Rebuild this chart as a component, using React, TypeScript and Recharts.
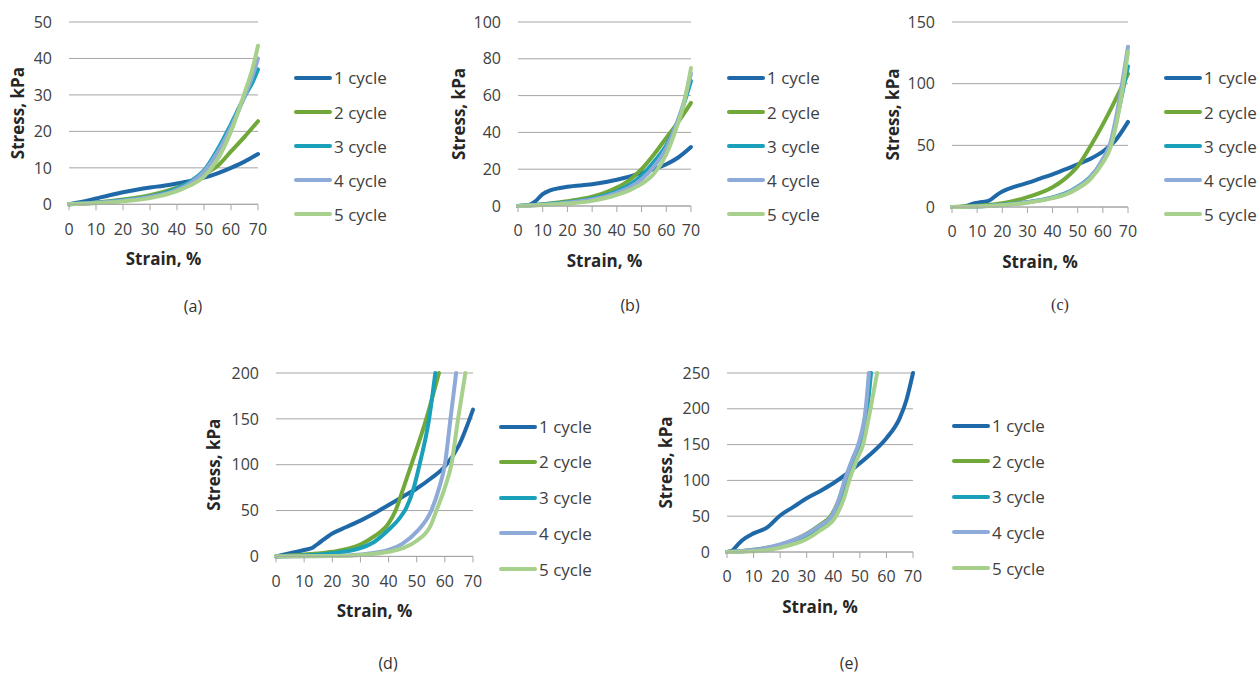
import { CartesianGrid, Line, LineChart, XAxis, YAxis } from "recharts";

type Pt = [number, number];

const seriesNames = ["1 cycle", "2 cycle", "3 cycle", "4 cycle", "5 cycle"];
const seriesColors = ["#1f69a8", "#70a83a", "#1aa0b9", "#8eaad8", "#a8d08d"];
const strainTicks = [0, 10, 20, 30, 40, 50, 60, 70];

// (a)
const a1: Pt[] = [[0, 0], [5, 0.7], [10, 1.6], [15, 2.5], [20, 3.3], [25, 4], [30, 4.6], [35, 5.1], [40, 5.7], [45, 6.4], [50, 7.3], [55, 8.5], [60, 10], [65, 11.7], [70, 13.8]];
const a2: Pt[] = [[0, 0], [10, 0.5], [20, 1.3], [30, 2.5], [40, 4.6], [45, 6], [50, 8.2], [55, 10.5], [60, 14.5], [65, 18.5], [70, 22.8]];
const a3: Pt[] = [[0, 0], [10, 0.4], [20, 1.1], [30, 2.1], [40, 4.3], [45, 6.3], [50, 9.3], [55, 15], [60, 22], [65, 29.5], [68, 33.5], [70, 37]];
const a4: Pt[] = [[0, 0], [10, 0.4], [20, 1], [30, 2], [40, 4], [45, 5.9], [50, 9], [55, 14.2], [60, 21.2], [65, 29.5], [68, 35.2], [70, 40]];
const a5: Pt[] = [[0, 0], [10, 0.3], [20, 0.8], [30, 1.7], [40, 3.6], [45, 5.2], [50, 7.6], [55, 12.3], [60, 20], [65, 30.5], [68, 37.3], [70, 43.5]];
const stressTicksA = [0, 10, 20, 30, 40, 50];

// (b)
const b1: Pt[] = [[0, 0], [4, 0.3], [7, 2.5], [10, 6.5], [13, 8.5], [17, 9.8], [20, 10.5], [30, 11.8], [40, 14.3], [45, 16], [50, 18], [55, 20], [60, 22.7], [65, 26.5], [70, 32]];
const b2: Pt[] = [[0, 0], [10, 1], [20, 2.6], [30, 5], [40, 10], [45, 14], [50, 20], [55, 28], [60, 37], [65, 46], [70, 56]];
const b3: Pt[] = [[0, 0], [10, 0.8], [20, 2], [30, 4], [40, 8], [45, 11.5], [50, 16.5], [55, 24], [60, 33], [64, 44], [67, 55], [70, 68]];
const b4: Pt[] = [[0, 0], [10, 0.7], [20, 1.8], [30, 3.5], [40, 7.2], [45, 10], [50, 14.5], [55, 21.5], [60, 31.5], [64, 44], [67, 56], [70, 72]];
const b5: Pt[] = [[0, 0], [10, 0.5], [20, 1.3], [30, 2.8], [40, 6], [45, 8.5], [50, 12], [55, 17.5], [60, 28], [64, 42], [67, 55], [70, 75]];
const stressTicksB = [0, 20, 40, 60, 80, 100];

// (c)
const c1: Pt[] = [[0, 0], [5, 0.5], [8, 2.5], [12, 4], [15, 5.5], [18, 10], [20, 12.5], [25, 16.5], [30, 19.5], [35, 23], [40, 26.5], [45, 30.5], [50, 34.6], [55, 39], [60, 45], [65, 54], [70, 69]];
const c2: Pt[] = [[0, 0], [10, 1], [20, 3], [30, 8], [40, 16], [45, 23], [50, 33], [55, 49], [60, 67], [65, 87], [70, 108]];
const c3: Pt[] = [[0, 0], [10, 0.5], [20, 1.8], [30, 4], [40, 7.8], [45, 11], [50, 16.5], [55, 24.5], [60, 38], [63, 50], [65, 66], [67, 85], [70, 114]];
const c4: Pt[] = [[0, 0], [10, 0.5], [20, 1.7], [30, 3.8], [40, 7.6], [45, 10.5], [50, 16], [55, 24], [60, 39], [63, 52], [65, 70], [67, 92], [70, 130]];
const c5: Pt[] = [[0, 0], [10, 0.4], [20, 1.5], [30, 3.5], [40, 7.2], [45, 10], [50, 15], [55, 22.5], [60, 36], [63, 48], [65, 64], [67, 85], [70, 126]];
const stressTicksC = [0, 50, 100, 150];

// (d)
const d1: Pt[] = [[0, 0], [5, 3.5], [10, 7], [13, 9.5], [15, 14], [20, 25], [25, 32], [30, 39], [35, 47], [40, 56], [45, 65], [50, 74], [55, 85], [60, 98], [65, 121], [70, 160]];
const d2: Pt[] = [[0, 0], [10, 2], [20, 5], [30, 13], [35, 22], [40, 36], [42.5, 50], [45, 72], [48.1, 100], [53.4, 150], [57.9, 200]];
const d3: Pt[] = [[0, 0], [10, 1], [20, 3.5], [30, 9], [35, 16], [40, 29], [44, 42], [46.3, 53], [48.7, 72], [51, 100], [54.4, 150], [56.6, 200]];
const d4: Pt[] = [[0, 0], [20, 0.5], [30, 2], [40, 7], [45, 14], [50, 27], [55.2, 50], [58, 75], [60, 100], [62, 150], [64, 200]];
const d5: Pt[] = [[0, 0], [20, 0.3], [30, 1.5], [40, 5], [45, 9], [50, 17], [55, 34], [57, 50], [60, 75], [62.3, 100], [64.7, 150], [67.3, 200]];
const stressTicksD = [0, 50, 100, 150, 200];

// (e)
const e1: Pt[] = [[0, 0], [2, 2], [3.5, 8], [6, 17], [10, 26], [15, 34], [20, 51], [25, 63], [30, 75], [35, 85], [40, 96], [45, 109], [50, 124], [55, 140], [60, 159], [65, 187], [67.5, 212], [70, 250]];
const e2: Pt[] = [[0, 0], [10, 3], [20, 10], [30, 25.5], [35, 38], [39, 50], [42, 72], [44.5, 100], [47.2, 127], [50, 152], [52.5, 200], [53.8, 250]];
const e3: Pt[] = [[0, 0], [10, 2.5], [20, 9], [30, 22], [35, 34], [40, 52], [43, 72], [45.5, 100], [48, 125], [50.5, 152], [52.8, 200], [54.2, 250]];
const e4: Pt[] = [[0, 0], [10, 3], [20, 10.5], [30, 25], [35, 37], [39.3, 50], [42, 72], [44.3, 100], [47, 128], [49.8, 155], [52.2, 200], [53.4, 250]];
const e5: Pt[] = [[0, 0], [10, 1], [20, 6], [30, 18], [35, 30], [41, 50], [44, 75], [46, 100], [49, 130], [51.2, 150], [54, 200], [56.5, 250]];
const stressTicksE = [0, 50, 100, 150, 200, 250];

type PanelProps = {
  series: Pt[][];
  yTicks: number[];
  left: number;
  right: number;
  top: number;
  bottom: number;
  titleX: number;
  legendX: number;
  legendRows: number[];
  caption: string;
  captionX: number;
  captionY: number;
  captionFont?: string;
};

const panels: PanelProps[] = [
  { series: [a1, a2, a3, a4, a5], yTicks: stressTicksA, left: 69, right: 258, top: 21.7, bottom: 204, titleX: 18, legendX: 294, legendRows: [77.7, 112, 146, 180, 214], caption: "(a)", captionX: 193, captionY: 306 },
  { series: [b1, b2, b3, b4, b5], yTicks: stressTicksB, left: 518, right: 691, top: 21.7, bottom: 205.7, titleX: 458, legendX: 727, legendRows: [77.7, 112, 146, 180, 214], caption: "(b)", captionX: 630, captionY: 305 },
  { series: [c1, c2, c3, c4, c5], yTicks: stressTicksC, left: 952, right: 1128, top: 21.7, bottom: 206.7, titleX: 892, legendX: 1164, legendRows: [77.7, 112, 146, 180, 214], caption: "(c)", captionX: 1060, captionY: 305, captionFont: "'Liberation Serif', serif" },
  { series: [d1, d2, d3, d4, d5], yTicks: stressTicksD, left: 276, right: 473, top: 373.3, bottom: 556.7, titleX: 214, legendX: 499, legendRows: [426.7, 461.7, 497.5, 533, 569], caption: "(d)", captionX: 388, captionY: 663 },
  { series: [e1, e2, e3, e4, e5], yTicks: stressTicksE, left: 727, right: 913, top: 373.3, bottom: 552.3, titleX: 665, legendX: 952, legendRows: [425.7, 461, 496.7, 532.3, 568.3], caption: "(e)", captionX: 849, captionY: 663 },
];

const font = "'Open Sans', 'Noto Sans', sans-serif";
const textColor = "#404040";

const Panel = (p: PanelProps) => {
  const yw = 72;
  const mt = 10;
  const mr = 12;
  const xh = 72;
  const plotW = p.right - p.left;
  const plotH = p.bottom - p.top;
  const W = yw + plotW + mr;
  const H = mt + plotH + xh;
  const yMax = p.yTicks[p.yTicks.length - 1];
  const titleY = mt + plotH / 2;
  const titleX = p.titleX - (p.left - yw);

  return (
    <>
      <div style={{ position: "absolute", left: p.left - yw, top: p.top - mt }}>
        <LineChart width={W} height={H} margin={{ top: mt, right: mr, left: 0, bottom: 0 }}>
          <CartesianGrid vertical={false} stroke="#a6a6a6" strokeWidth={1} />
          <XAxis
            type="number"
            dataKey="x"
            domain={[0, 70]}
            ticks={strainTicks}
            interval={0}
            height={xh}
            stroke="#a6a6a6"
            tickSize={6}
            tickMargin={13}
            tick={{ fill: textColor, fontSize: 16 }}
            label={{
              content: () => (
                <text x={yw + plotW / 2} y={mt + plotH + 54} textAnchor="middle" dominantBaseline="central" fontSize={17} fontWeight={700} fill="#262626">
                  Strain, %
                </text>
              ),
            }}
          />
          <YAxis
            type="number"
            domain={[0, yMax]}
            ticks={p.yTicks}
            interval={0}
            width={yw}
            axisLine={false}
            tickLine={false}
            tickSize={0}
            tickMargin={17}
            tick={{ fill: textColor, fontSize: 16 }}
            label={{
              content: () => (
                <text x={titleX} y={titleY} transform={`rotate(-90, ${titleX}, ${titleY})`} textAnchor="middle" dominantBaseline="central" fontSize={17} fontWeight={700} fill="#262626">
                  Stress, kPa
                </text>
              ),
            }}
          />
          {p.series.map((s, i) => (
            <Line
              key={seriesNames[i]}
              name={seriesNames[i]}
              data={s.map(([x, y]) => ({ x, y }))}
              dataKey="y"
              type="monotone"
              stroke={seriesColors[i]}
              strokeWidth={4}
              strokeLinecap="round"
              dot={false}
              activeDot={false}
              isAnimationActive={false}
            />
          ))}
        </LineChart>
      </div>
      {seriesNames.map((name, i) => (
        <div
          key={name}
          style={{
            position: "absolute",
            left: p.legendX,
            top: p.legendRows[i] - 12,
            height: 24,
            display: "flex",
            alignItems: "center",
            whiteSpace: "nowrap",
            fontSize: 17,
            color: textColor,
          }}
        >
          <span style={{ display: "inline-block", width: 38, height: 4, borderRadius: 2, background: seriesColors[i], marginRight: 2 }} />
          <span>{name}</span>
        </div>
      ))}
      <div
        style={{
          position: "absolute",
          left: p.captionX - 30,
          width: 60,
          top: p.captionY - 12,
          height: 24,
          lineHeight: "24px",
          textAlign: "center",
          fontSize: 16,
          color: "#333",
          fontFamily: p.captionFont ?? font,
        }}
      >
        {p.caption}
      </div>
    </>
  );
};

export default function App() {
  return (
    <div
      style={{
        position: "absolute",
        left: 0,
        top: 0,
        width: 1258,
        height: 673,
        overflow: "hidden",
        background: "#fff",
        fontFamily: font,
      }}
    >
      {panels.map((p) => (
        <Panel key={p.caption} {...p} />
      ))}
    </div>
  );
}
